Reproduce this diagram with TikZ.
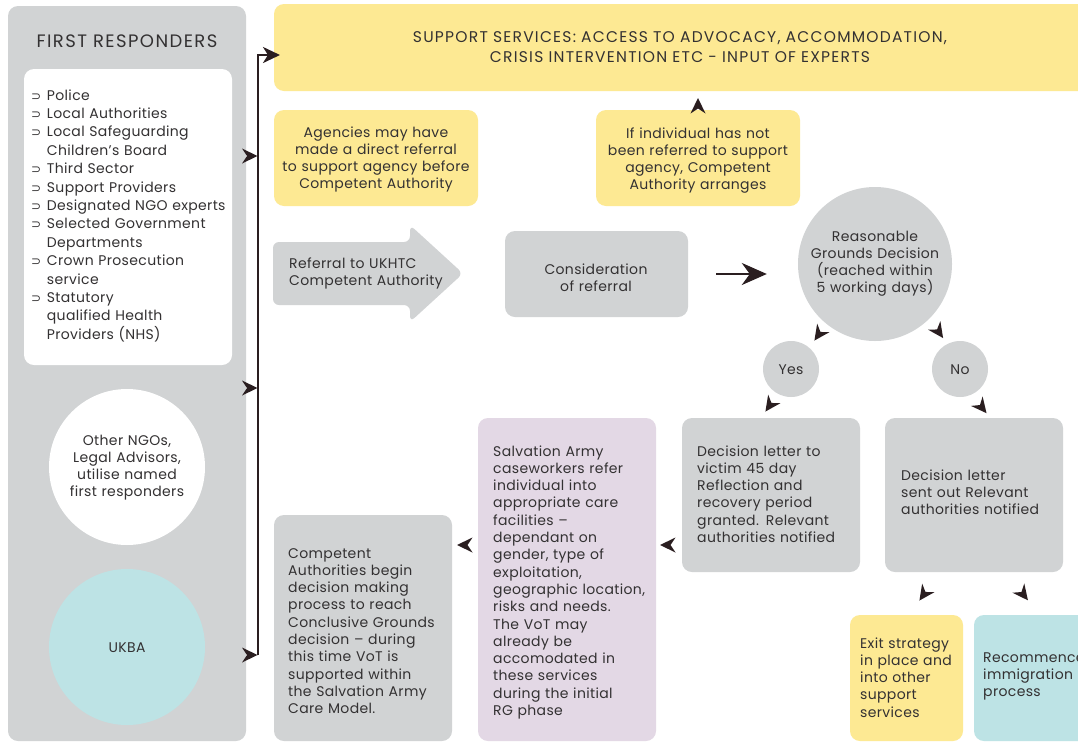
\documentclass[tikz,border=0pt]{standalone}
\usepackage{fontspec}
\setmainfont{Poppins}[LetterSpace=2.5]
\newfontfamily\capsfont{Poppins}[LetterSpace=8]
\newfontfamily\symfont{DejaVu Sans}
\usetikzlibrary{arrows.meta}
\definecolor{panelc}{HTML}{D1D3D4}
\definecolor{yellowc}{HTML}{FDE993}
\definecolor{cyanc}{HTML}{BDE3E5}
\definecolor{purplec}{HTML}{E3D8E5}
\definecolor{textc}{HTML}{333132}
\definecolor{headc}{HTML}{2A1E20}
\newcommand\bodyfs{\fontsize{14}{17.3}\selectfont}
\newcommand\bul{\makebox[15.7pt][l]{\symfont\fontsize{12}{12}\selectfont ⊃}}
\newcommand\ind{\hspace*{15.7pt}}
\tikzset{
 box/.style={rounded corners=10pt, inner sep=0pt, outer sep=0pt, anchor=north west},
 ltxt/.style={font=\bodyfs, text=textc, inner sep=0pt, align=left, anchor=base west, text width=#1},
 ctxt/.style={font=\bodyfs, text=textc, inner sep=0pt, align=center, anchor=base, text width=#1},
 ahead/.pic={\fill[headc] (8,0) -- (-7.5,7.5) -- (-2.5,0) -- (-7.5,-7.5) -- cycle;},
 bline/.style={draw=headc, line width=2.6pt, line join=miter},
}
\begin{document}
\begin{tikzpicture}[x=1pt,y=-1pt]
\useasboundingbox (0,0) rectangle (1078,742);
\clip (0,0) rectangle (1078,742);
\fill[white] (0,0) rectangle (1078,742);

% first responders panel
\node[box, fill=panelc, minimum width=238pt, minimum height=735pt] (fr) at (8,6) {};
\node[font=\capsfont\fontsize{18}{20}\selectfont, text=textc, anchor=base, inner sep=0pt, text width=230pt, align=center] (frtitle) at (127,47) {FIRST RESPONDERS};
\node[box, fill=white, minimum width=208pt, minimum height=296pt] (list) at (24,69) {};
\node[font=\fontsize{14}{18.4}\selectfont, text=textc, inner sep=0pt, align=left, anchor=base west, text width=205pt] (items) at (31,100)
 {\bul Police\\
  \bul Local Authorities\\
  \bul Local Safeguarding\\
  \ind Children’s Board\\
  \bul Third Sector\\
  \bul Support Providers\\
  \bul Designated NGO experts\\
  \bul Selected Government\\
  \ind Departments\\
  \bul Crown Prosecution\\
  \ind service\\
  \bul Statutory\\
  \ind qualified Health\\
  \ind Providers (NHS)};
\node[circle, fill=white, minimum size=156pt, inner sep=0pt] (ngo) at (127,467) {};
\node[ctxt=150pt] (ngot) at (127,445) {Other NGOs,\\Legal Advisors,\\utilise named\\first responders};
\node[circle, fill=cyanc, minimum size=156pt, inner sep=0pt] (ukba) at (127,647) {};
\node[ctxt=100pt] (ukbat) at (127,652) {UKBA};

% boxes
\node[box, fill=yellowc, minimum width=830pt, minimum height=87pt] (support) at (274,4) {};
\node[font=\capsfont\fontsize{15.5}{20}\selectfont, text=textc, align=center, anchor=base, inner sep=0pt, text width=700pt] (supt) at (680,42)
 {SUPPORT SERVICES: ACCESS TO ADVOCACY, ACCOMMODATION,\\CRISIS INTERVENTION ETC - INPUT OF EXPERTS};
\node[box, fill=yellowc, minimum width=204pt, minimum height=96pt] (agency) at (274,110) {};
\node[ctxt=200pt] (agt) at (376,137) {Agencies may have\\made a direct referral\\to support agency before\\Competent Authority};
\node[box, fill=yellowc, minimum width=204pt, minimum height=96pt] (ifnot) at (596,110) {};
\node[ctxt=200pt] (ift) at (698,138) {If individual has not\\been referred to support\\agency, Competent\\Authority arranges};

\fill[panelc, rounded corners=6pt] (273,242) -- (410,242) -- (410,225) -- (463,273.5) -- (410,322) -- (410,305) -- (273,305) -- cycle;
\node[ltxt=170pt] (reft) at (289,268.5) {Referral to UKHTC\\Competent Authority};
\node[box, fill=panelc, minimum width=183pt, minimum height=86pt] (consid) at (505,231) {};
\node[ctxt=170pt] (cont) at (596,274) {Consideration\\of referral};

\node[circle, fill=panelc, minimum size=154pt, inner sep=0pt] (rg) at (875,264) {};
\node[ctxt=150pt] (rgt) at (875,241) {Reasonable\\Grounds Decision\\(reached within\\5 working days)};
\node[circle, fill=panelc, minimum size=56pt, inner sep=0pt] (yes) at (791,369) {};
\node[ctxt=50pt] (yest) at (791,374) {Yes};
\node[circle, fill=panelc, minimum size=56pt, inner sep=0pt] (no) at (960,369) {};
\node[ctxt=50pt] (not) at (960,374) {No};

\node[box, fill=panelc, minimum width=178pt, minimum height=154pt] (dl1) at (682,418) {};
\node[ltxt=165pt] (dl1t) at (697,456) {Decision letter to\\victim 45 day\\Reflection and\\recovery period\\granted. Relevant\\authorities notified};
\node[box, fill=panelc, minimum width=178pt, minimum height=154pt] (dl2) at (885,418) {};
\node[ltxt=165pt] (dl2t) at (901,480) {Decision letter\\sent out Relevant\\authorities notified};
\node[box, fill=purplec, minimum width=178pt, minimum height=323pt] (sa) at (478,418) {};
\node[ltxt=165pt] (sat) at (493,456) {Salvation Army\\caseworkers refer\\individual into\\appropriate care\\facilities –\\dependant on\\gender, type of\\exploitation,\\geographic location,\\risks and needs.\\The VoT may\\already be\\accomodated in\\these services\\during the initial\\RG phase};
\node[box, fill=panelc, minimum width=178pt, minimum height=226pt] (ca) at (274,515) {};
\node[ltxt=165pt] (cat) at (288,558) {Competent\\Authorities begin\\decision making\\process to reach\\Conclusive Grounds\\decision – during\\this time VoT is\\supported within\\the Salvation Army\\Care Model.};
\node[box, fill=yellowc, minimum width=113pt, minimum height=126pt] (exit) at (850,615) {};
\node[ltxt=105pt] (exitt) at (860,648) {Exit strategy\\in place and\\into other\\support\\services};
\node[box, fill=cyanc, minimum width=130pt, minimum height=126pt] (imm) at (974,615) {};
\node[ltxt=120pt] (immt) at (983,662) {Recommence\\immigration\\process};

% connectors
\coordinate (bt) at (258,55);
\coordinate (bb) at (258,655);
\draw[bline, -{Stealth[length=17pt,width=16pt,inset=5pt]}] (bb) -- (bt) -- ([xshift=6pt]bt -| support.west);
\draw[bline, -{Stealth[length=25pt,width=22pt,inset=8pt]}, shorten <=28pt, shorten >=31pt] (consid.east) -- (consid.east -| rg.west);

% arrowheads
\pic at (249.5,156) {ahead};
\pic at (249.5,388) {ahead};
\pic at (249.5,655) {ahead};
\pic[rotate=90] at (698,106) {ahead};
\pic[rotate=-125] at (819,334) {ahead};
\pic[rotate=-55] at (938.5,331.5) {ahead};
\pic[rotate=-125] at (770,405) {ahead};
\pic[rotate=-51] at (981.5,407) {ahead};
\pic[rotate=180] at (465,545) {ahead};
\pic[rotate=180] at (668,545) {ahead};
\pic[rotate=-125] at (924,594) {ahead};
\pic[rotate=-52] at (1023,594) {ahead};
\end{tikzpicture}
\end{document}
